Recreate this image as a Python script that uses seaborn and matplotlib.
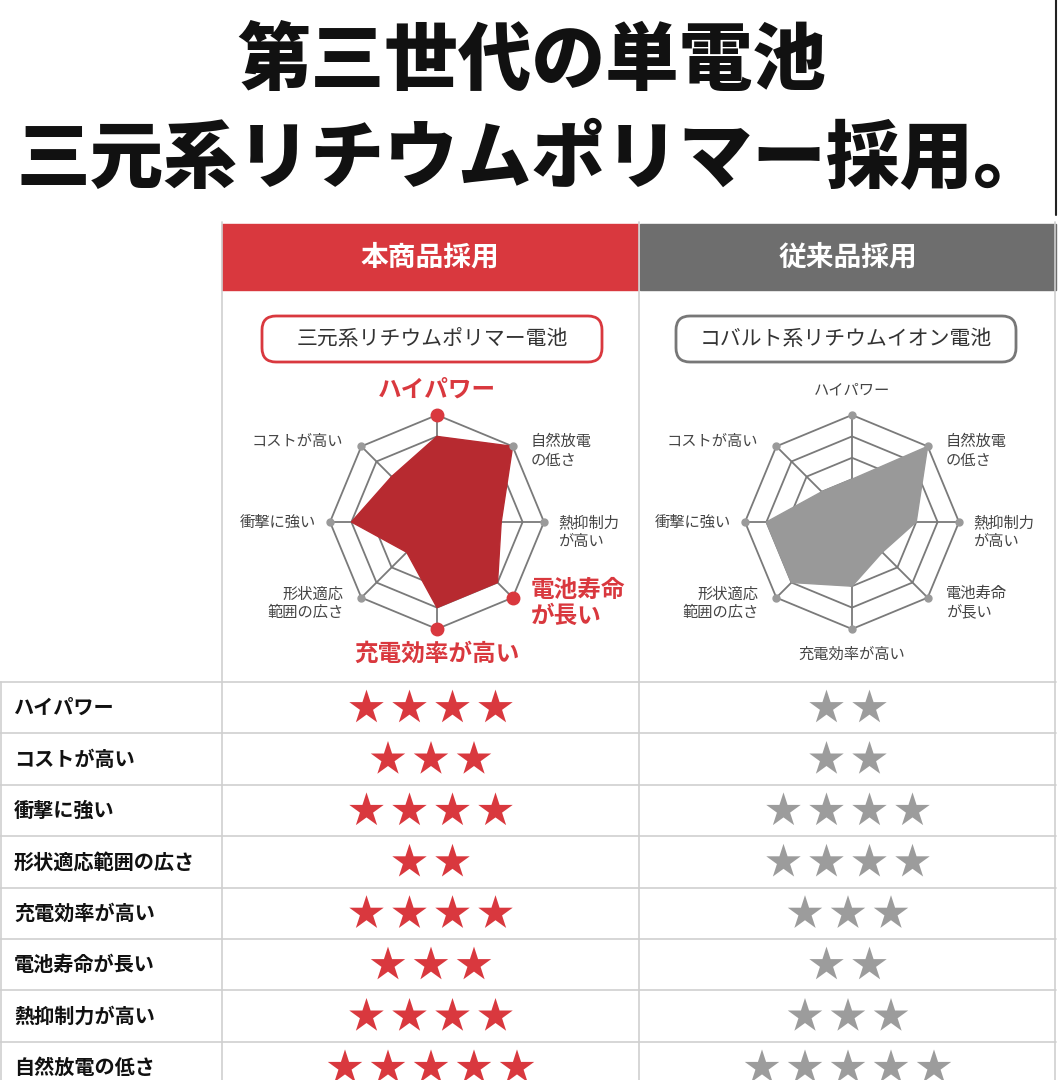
import numpy as np
import pandas as pd
import matplotlib
matplotlib.use("Agg")
import matplotlib.pyplot as plt
import seaborn as sns
from matplotlib.patches import Rectangle, FancyBboxPatch

sns.set_theme(style="white")
plt.rcParams['font.family'] = ['Noto Sans CJK JP', 'DejaVu Sans']

title_lines = ["第三世代の単電池", "三元系リチウムポリマー採用。"]
col_headers = ["本商品採用", "従来品採用"]
pill_labels = ["三元系リチウムポリマー電池", "コバルト系リチウムイオン電池"]
axes_labels = ["ハイパワー", "自然放電\nの低さ", "熱抑制力\nが高い", "電池寿命\nが長い",
               "充電効率が高い", "形状適応\n範囲の広さ", "衝撃に強い", "コストが高い"]
radar_new = [4, 5, 3, 4, 4, 2, 4, 3]
radar_old = [2, 5, 3, 2, 3, 4, 4, 2]
highlight_new = [0, 3, 4]
row_labels = ["ハイパワー", "コストが高い", "衝撃に強い", "形状適応範囲の広さ",
              "充電効率が高い", "電池寿命が長い", "熱抑制力が高い", "自然放電の低さ"]
stars_new = [4, 3, 4, 2, 4, 3, 4, 5]
stars_old = [2, 2, 4, 4, 3, 2, 3, 5]

RED = "#d9383e"
RED_FILL = "#b72a30"
GRAY_H = "#6e6e6e"
GRAY_S = "#9c9c9c"

W, H = 1058, 1080
fig = plt.figure(figsize=(W/100, H/100), dpi=100)
bg = fig.add_axes([0, 0, 1, 1])
bg.set_xlim(0, W); bg.set_ylim(H, 0); bg.axis("off")

bg.text(532, 62, title_lines[0], ha="center", va="center", fontsize=53, fontweight="black", color="#111")
bg.text(532, 160, title_lines[1], ha="center", va="center", fontsize=53, fontweight="black", color="#111")
bg.plot([1056, 1056], [0, 215], color="#222", lw=1.5)

# headers
bg.add_patch(Rectangle((222, 224), 416, 66, color=RED))
bg.add_patch(Rectangle((640, 224), 416, 66, color=GRAY_H))
bg.text(430, 257, col_headers[0], ha="center", va="center", fontsize=20, fontweight="bold", color="white")
bg.text(848, 257, col_headers[1], ha="center", va="center", fontsize=20, fontweight="bold", color="white")

# pills
for cx, lab, col in [(432, pill_labels[0], RED), (846, pill_labels[1], "#777")]:
    bg.add_patch(FancyBboxPatch((cx-170, 316), 340, 46, boxstyle="round,pad=0,rounding_size=14",
                                fc="white", ec=col, lw=2))
    bg.text(cx, 339, lab, ha="center", va="center", fontsize=15, color="#333")

# grid lines of table
lc = "#cfcfcf"
ys = [682 + 51.4*i for i in range(9)]
for y in ys:
    bg.plot([0, 1056], [y, y], color=lc, lw=1.2)
for x in [222, 639, 1055]:
    bg.plot([x, x], [222, H], color=lc, lw=1.2)
bg.plot([1, 1], [682, H], color=lc, lw=1.2)

# table text + stars
rows = []
for i, lab in enumerate(row_labels):
    yc = (ys[i] + ys[i+1]) / 2
    bg.text(14, yc, lab, ha="left", va="center", fontsize=14.5, fontweight="bold", color="#111")
    for cx, n, col in [(431, stars_new[i], "new"), (848, stars_old[i], "old")]:
        for k in range(n):
            rows.append({"x": cx + (k - (n-1)/2)*43, "y": yc, "grp": col})
df = pd.DataFrame(rows)
sns.scatterplot(data=df, x="x", y="y", hue="grp", palette={"new": RED, "old": GRAY_S},
                marker="*", s=680, linewidth=0, legend=False, ax=bg)
bg.set_xlim(0, W); bg.set_ylim(H, 0); bg.axis("off")

# radars
N = len(axes_labels)
ang = np.arange(N) * 2*np.pi/N
R = 107
for cx, vals, fill, hl in [(437, radar_new, RED_FILL, highlight_new), (852, radar_old, "#999999", [])]:
    ax = fig.add_axes([(cx-R)/W, 1-(522+R)/H, 2*R/W, 2*R/H], projection="polar")
    ax.set_theta_zero_location("N"); ax.set_theta_direction(-1)
    ax.set_ylim(0, 5); ax.axis("off")
    a2 = np.append(ang, ang[0])
    for r in range(1, 6):
        ax.plot(a2, [r]*(N+1), color="#7a7a7a", lw=1.3)
    for a in ang:
        ax.plot([a, a], [0, 5], color="#7a7a7a", lw=1.3)
    v = np.append(vals, vals[0])
    ax.fill(a2, v, color=fill, alpha=1.0, zorder=3)
    for j, a in enumerate(ang):
        c = RED if j in hl else "#9a9a9a"
        ax.plot([a], [5], "o", color=c, ms=9 if j in hl else 5, zorder=4, clip_on=False)
    for j, a in enumerate(ang):
        hi = j in hl
        x = cx + np.sin(a)*(R+40); y = 522 - np.cos(a)*(R+30)
        if j == 0: y = 522 - R - 25
        if j == 4: y = 522 + R + 25
        ha = "center"
        if j in (1, 2, 3): ha = "left"; x = cx + np.sin(a)*R + (18 if j != 2 else 14)
        if j in (5, 6, 7): ha = "right"; x = cx + np.sin(a)*R - (18 if j != 6 else 14)
        if j == 1: y = 522 - R*0.71 + 5
        if j == 7: y = 522 - R*0.71 - 5
        if j in (3, 5): y = 522 + R*0.71 + 5
        if j == 2: y = 532
        bg.text(x, y, axes_labels[j], ha=ha, va="center", fontsize=17 if hi else 11,
                fontweight="bold" if hi else "normal", color=RED if hi else "#444", linespacing=1.1)

fig.savefig("out.png", dpi=100)
